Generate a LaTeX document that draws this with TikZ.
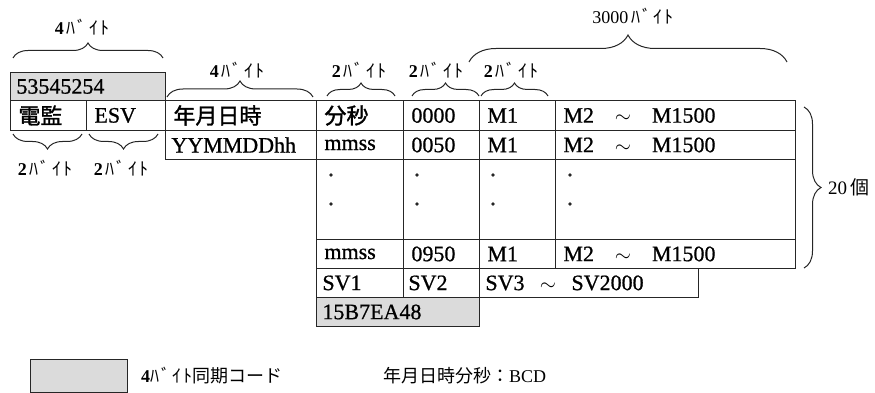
\documentclass[tikz,border=0pt]{standalone}
\usepackage{fontspec}
\setmainfont{Liberation Serif}
\newfontfamily\tbl[FakeBold=0.8]{Liberation Serif}
\newfontfamily\jp{Noto Sans CJK JP}
\newfontfamily\jpb[FakeBold=1.5]{Noto Sans CJK JP}
\newfontfamily\jpk[LetterSpace=12]{Noto Sans CJK JP}
\usetikzlibrary{decorations.pathreplacing}
\tikzset{
  cell/.style={draw=black!85, line width=0.9pt, anchor=north west, inner xsep=8pt, inner ysep=0pt,
    align=left, font=\fontsize{22}{24}\tbl},
  shaded/.style={fill=black!14},
  brc/.style={decorate, decoration={brace, amplitude=#1}, line width=1pt, draw=black!85},
  brcm/.style={decorate, decoration={brace, mirror, amplitude=#1}, line width=1pt, draw=black!85},
  lbl/.style={font=\fontsize{18}{20}\selectfont, inner sep=0pt},
  leg/.style={font=\fontsize{18}{20}\selectfont, inner sep=0pt, anchor=west},
}
\newcommand{\byt}[1]{{\bfseries #1}\,{\jpk ﾊﾞｲﾄ}}
\newcommand{\tild}{\hspace{0.95em}$\sim$\hspace{0.95em}}
\begin{document}
\begin{tikzpicture}[x=1pt,y=-1pt]
\useasboundingbox (0,0) rectangle (875,393);
% left block
\node[cell, shaded, text width=139pt, minimum height=28pt] (sync) at (10,72) {\kern-2pt 53545254};
\node[cell, text width=60pt, minimum height=30pt] (denkan) at (10,100) {\jpb 電監};
\node[cell, text width=63pt, minimum height=30pt] (esv) at (86,100) {ESV};
\node[cell, text width=135pt, minimum height=30pt] (nen) at (165,100) {\jpb 年月日時};
\node[cell, text width=135pt, minimum height=29pt] (yym) at (165,130) {\kern-2pt YYMMDDhh};
% row 1
\node[cell, text width=71pt, minimum height=30pt] (r1a) at (316,100) {\jpb 分秒};
\node[cell, text width=60pt, minimum height=30pt] (r1b) at (403,100) {0000};
\node[cell, text width=60pt, minimum height=30pt] (r1c) at (479,100) {M1};
\node[cell, text width=224pt, minimum height=30pt] (r1d) at (555,100) {M2\tild M1500};
% row 2
\node[cell, text width=71pt, minimum height=29pt] (r2a) at (316,130) {mmss};
\node[cell, text width=60pt, minimum height=29pt] (r2b) at (403,130) {0050};
\node[cell, text width=60pt, minimum height=29pt] (r2c) at (479,130) {M1};
\node[cell, text width=224pt, minimum height=29pt] (r2d) at (555,130) {M2\tild M1500};
% dots area
\node[cell, text width=71pt, minimum height=80pt] (r3a) at (316,159) {};
\node[cell, text width=60pt, minimum height=80pt] (r3b) at (403,159) {};
\node[cell, text width=60pt, minimum height=80pt] (r3c) at (479,159) {};
\node[cell, text width=224pt, minimum height=80pt] (r3d) at (555,159) {};
\foreach \xx in {331,417,493,570}{
  \fill[black!85] (\xx,175) circle (1.9pt);
  \fill[black!85] (\xx,204) circle (1.9pt);
}
% last row
\node[cell, text width=71pt, minimum height=29pt] (r4a) at (316,239) {mmss};
\node[cell, text width=60pt, minimum height=29pt] (r4b) at (403,239) {0950};
\node[cell, text width=60pt, minimum height=29pt] (r4c) at (479,239) {M1};
\node[cell, text width=224pt, minimum height=29pt] (r4d) at (555,239) {M2\tild M1500};
% SV row
\node[cell, text width=71pt, minimum height=29pt] (sv1) at (316,268) {\kern-2pt SV1};
\node[cell, text width=60pt, minimum height=29pt] (sv2) at (403,268) {\kern-3pt SV2};
\node[cell, text width=203pt, minimum height=29pt] (sv3) at (479,268) {\kern-2pt SV3\hspace{0.7em}$\sim$\hspace{0.7em}SV2000};
\node[cell, shaded, text width=147pt, minimum height=29pt] (crc) at (316,297) {\kern-2pt 15B7EA48};
% braces
\coordinate (b1a) at (13,58);   \coordinate (b1b) at (163,58);
\coordinate (b2a) at (167,97);  \coordinate (b2b) at (313,97);
\coordinate (b3a) at (327,96);  \coordinate (b3b) at (395,96);
\coordinate (b4a) at (412,96);  \coordinate (b4b) at (479,96);
\coordinate (b5a) at (481,96);  \coordinate (b5b) at (548,96);
\coordinate (b6a) at (469,62);  \coordinate (b6b) at (787,62);
\coordinate (b7a) at (13,134);  \coordinate (b7b) at (82,134);
\coordinate (b8a) at (89,134);  \coordinate (b8b) at (158,134);
\coordinate (b9a) at (804,107); \coordinate (b9b) at (804,268);
\draw[brc=15] (b1a) -- (b1b);
\draw[brc=16] (b2a) -- (b2b);
\draw[brc=13] (b3a) -- (b3b);
\draw[brc=13] (b4a) -- (b4b);
\draw[brc=13] (b5a) -- (b5b);
\draw[brc=27] (b6a) -- (b6b);
\draw[brcm=15] (b7a) -- (b7b);
\draw[brcm=15] (b8a) -- (b8b);
\draw[brc=17] (b9a) -- (b9b);
% labels
\node[lbl] (l1) at (82,27) {\byt{4}};
\node[lbl] (l2) at (237,70) {\byt{4}};
\node[lbl] (l3) at (359,70) {\byt{2}};
\node[lbl] (l4) at (436,70) {\byt{2}};
\node[lbl] (l5) at (511,70) {\byt{2}};
\node[lbl] (l6) at (633,16) {3000\,{\jpk ﾊﾞｲﾄ}};
\node[lbl] (l7) at (45,168) {\byt{2}};
\node[lbl] (l8) at (121,168) {\byt{2}};
\node[lbl, anchor=west] (l9) at (828,187) {\fontsize{19}{21}\selectfont 20\,{\jp 個}};
% legend
\node[draw=black!85, line width=0.9pt, shaded, minimum width=97pt, minimum height=33pt, anchor=north west] (legbox) at (30,359) {};
\node[leg] (legt1) at (141,376) {{\bfseries 4}{\jpk ﾊﾞｲﾄ}{\jp 同期コード}};
\node[leg] (legt2) at (383,376) {{\jp 年月日時分秒：}BCD};
\end{tikzpicture}
\end{document}
